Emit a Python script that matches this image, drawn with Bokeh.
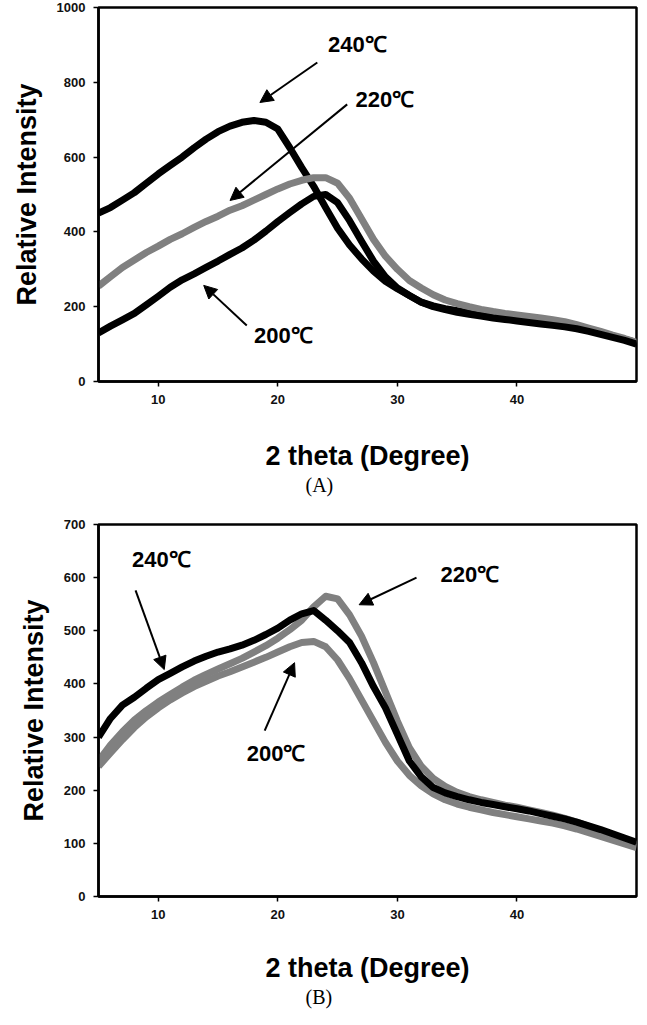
from bokeh.plotting import figure
from bokeh.models import Range1d, FixedTicker, Label, Arrow, NormalHead, Title
from bokeh.layouts import column
from bokeh.embed import file_html
from bokeh.resources import INLINE

# ---------------- data ----------------
two_theta = list(range(5, 51))

# Panel A
a_240 = [450, 465, 485, 505, 530, 555, 578, 600, 625, 648, 668, 683, 693, 698, 693, 675,
         625, 572, 522, 465, 410, 365, 328, 295, 268, 248, 230, 212, 202, 195, 189, 183,
         178, 173, 169, 165, 161, 157, 153, 149, 144, 137, 129, 121, 113, 104]
a_220 = [255, 280, 305, 325, 345, 362, 380, 395, 412, 428, 442, 458, 470, 485, 500, 515,
         528, 538, 545, 545, 530, 490, 435, 380, 335, 300, 270, 250, 232, 218, 208, 200,
         193, 187, 182, 178, 174, 170, 165, 160, 152, 143, 134, 124, 115, 105]
a_200 = [130, 148, 165, 182, 205, 228, 252, 272, 288, 305, 322, 340, 357, 378, 402, 428,
         452, 475, 495, 500, 478, 430, 375, 322, 280, 250, 230, 212, 200, 192, 185, 180,
         175, 170, 166, 162, 158, 154, 150, 146, 141, 134, 126, 118, 110, 100]

# Panel B
b_240 = [300, 335, 360, 375, 392, 408, 420, 432, 443, 452, 460, 466, 473, 482, 493, 505,
         520, 532, 538, 520, 500, 478, 440, 395, 355, 305, 255, 225, 205, 195, 188, 182,
         177, 173, 169, 165, 161, 156, 151, 146, 140, 133, 126, 118, 110, 102]
b_220 = [255, 285, 310, 332, 350, 366, 380, 394, 407, 418, 428, 438, 448, 460, 472, 486,
         502, 520, 545, 565, 560, 530, 490, 440, 385, 330, 280, 245, 222, 207, 196, 188,
         182, 177, 172, 168, 163, 158, 153, 147, 140, 132, 124, 116, 107, 98]
b_200 = [245, 270, 295, 318, 338, 355, 370, 383, 395, 405, 415, 423, 432, 441, 450, 460,
         470, 478, 480, 470, 445, 410, 370, 330, 290, 255, 228, 208, 193, 182, 174, 168,
         163, 158, 154, 150, 146, 142, 138, 133, 127, 120, 113, 106, 99, 92]

x_ticks = [10, 20, 30, 40]
a_y_ticks = [0, 200, 400, 600, 800, 1000]
b_y_ticks = [0, 100, 200, 300, 400, 500, 600, 700]

BLACK = "#000000"
GREY = "#808080"
SANS = "Liberation Sans"
LW = 7


def make_panel(height, top, bottom, ymax, yticks, caption, xstand):
    p = figure(width=638, height=height, output_backend="svg", toolbar_location=None,
               x_range=Range1d(5, 50), y_range=Range1d(0, ymax),
               min_border_left=98, min_border_right=2,
               min_border_top=top, min_border_bottom=bottom)
    p.grid.visible = False
    p.outline_line_color = "black"
    p.outline_line_width = 2.5
    p.background_fill_color = "white"
    p.border_fill_color = "white"
    p.xaxis.ticker = FixedTicker(ticks=x_ticks)
    p.yaxis.ticker = FixedTicker(ticks=yticks)
    for ax in (p.xaxis[0], p.yaxis[0]):
        ax.axis_line_width = 2.5
        ax.axis_line_color = "black"
        ax.major_tick_in = 0
        ax.major_tick_out = 5
        ax.major_tick_line_width = 1.5
        ax.minor_tick_line_color = None
        ax.major_label_text_font = SANS
        ax.major_label_text_font_style = "bold"
        ax.major_label_text_font_size = "13px"
        ax.major_label_text_color = "#111111"
        ax.axis_label_text_font = SANS
        ax.axis_label_text_font_style = "bold"
        ax.axis_label_text_font_size = "27px"
        ax.axis_label_text_color = "#000000"
    p.xaxis.axis_label = "2 theta (Degree)"
    p.yaxis.axis_label = "Relative Intensity"
    p.xaxis.major_label_standoff = 8
    p.yaxis.major_label_standoff = 8
    p.xaxis.axis_label_standoff = xstand
    p.yaxis.axis_label_standoff = 12
    p.add_layout(Title(text=caption, align="left", offset=207, standoff=0,
                       vertical_align="top",
                       text_font="Liberation Serif", text_font_style="normal",
                       text_font_size="20px", text_color="black"), "below")
    return p


def add_text(p, x, y, txt):
    p.add_layout(Label(x=x, y=y, text=txt, text_font=SANS, text_font_style="bold",
                       text_font_size="22px", text_baseline="middle", text_align="left",
                       text_color="black"))


def add_arrow(p, x0, y0, x1, y1):
    p.add_layout(Arrow(end=NormalHead(size=13, fill_color="black", line_color="black"),
                       x_start=x0, y_start=y0, x_end=x1, y_end=y1,
                       line_width=2, line_color="black"))


# ---------- Panel A ----------
pa = make_panel(513, 7, 132, 1000, a_y_ticks, "(A)", 34)
pa.line(two_theta, a_240, line_color=BLACK, line_width=LW, line_join="round")
pa.line(two_theta, a_220, line_color=GREY, line_width=LW, line_join="round")
pa.line(two_theta, a_200, line_color=BLACK, line_width=LW, line_join="round")
add_text(pa, 24.2, 901, "240℃")
add_text(pa, 26.5, 754, "220℃")
add_text(pa, 18.0, 123, "200℃")
add_arrow(pa, 23.3, 853, 18.5, 746)
add_arrow(pa, 25.8, 741, 16.0, 484)
add_arrow(pa, 17.4, 150, 13.8, 257)

# ---------- Panel B ----------
pb = make_panel(496, 11, 113, 700, b_y_ticks, "(B)", 31)
pb.line(two_theta, b_220, line_color=GREY, line_width=LW, line_join="round")
pb.line(two_theta, b_200, line_color=GREY, line_width=LW, line_join="round")
pb.line(two_theta, b_240, line_color=BLACK, line_width=LW, line_join="round")
add_text(pb, 7.8, 634, "240℃")
add_text(pb, 33.6, 606, "220℃")
add_text(pb, 17.4, 269, "200℃")
add_arrow(pb, 8.1, 576, 10.5, 427)
add_arrow(pb, 31.6, 600, 26.8, 549)
add_arrow(pb, 18.9, 312, 21.4, 440)

layout = column(pa, pb)
open("out.html", "w").write(file_html(layout, INLINE))
